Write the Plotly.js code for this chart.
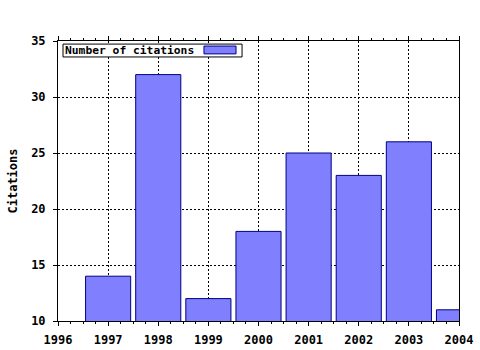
<!DOCTYPE html>
<html><head><meta charset="utf-8">
<script src="https://cdn.plot.ly/plotly-3.0.1.min.js"></script>
<style>html,body{margin:0;padding:0;background:#fff}#c{width:480px;height:350px}</style>
</head><body><div id="c"></div>
<script>
const years = [1997, 1998, 1999, 2000, 2001, 2002, 2003, 2004];
const citations = [14, 32, 12, 18, 25, 23, 26, 11];
const seriesName = "Number of citations";
const xTicks = [1996, 1997, 1998, 1999, 2000, 2001, 2002, 2003, 2004];
const yTicks = [10, 15, 20, 25, 30, 35];

const font = {family: "DejaVu Sans Mono", size: 12, color: "#000", weight: "bold"};
const legendFont = {family: "DejaVu Sans Mono", size: 11.3, color: "#000", weight: "bold"};
const trace = {
  type: "bar", x: years, y: citations, name: seriesName, width: 0.9,
  marker: {color: "#8080ff", line: {color: "#000080", width: 1}},
  showlegend: false, hoverinfo: "none"
};
const layout = {
  width: 480, height: 350,
  margin: {l: 58, r: 21, t: 41, b: 29},
  paper_bgcolor: "#fff", plot_bgcolor: "#fff",
  font: font,
  xaxis: {range: [1996, 2004], tickvals: xTicks, ticktext: xTicks.map(String),
    showline: true, linecolor: "#000", linewidth: 1, mirror: "ticks",
    ticks: "outside", ticklen: 4, tickcolor: "#000", ticklabelstandoff: 4,
    showgrid: true, gridcolor: "#000", griddash: "2px,2px", gridwidth: 1,
    minor: {dtick: 0.25, tick0: 1996, ticks: "outside", ticklen: 2, tickcolor: "#000", showgrid: false},
    zeroline: false, tickfont: font},
  yaxis: {range: [10, 35], tickvals: yTicks, ticktext: yTicks.map(String),
    showline: true, linecolor: "#000", linewidth: 1, mirror: true,
    ticks: "outside", ticklen: 4, tickcolor: "#000", ticklabelstandoff: 5,
    showgrid: true, gridcolor: "#000", griddash: "2px,2px", gridwidth: 1,
    zeroline: false, tickfont: font,
    title: {text: "Citations", font: font, standoff: 10}},
  shapes: [
    {type: "rect", xref: "paper", yref: "paper", x0: 0.0125, x1: 0.459, y0: 0.943, y1: 0.989,
     line: {color: "#000", width: 1}, fillcolor: "#fff", layer: "above"},
    {type: "rect", xref: "paper", yref: "paper", x0: 0.364, x1: 0.444, y0: 0.954, y1: 0.982,
     line: {color: "#000080", width: 1}, fillcolor: "#8080ff", layer: "above"}
  ],
  annotations: [
    {xref: "paper", yref: "paper", x: 0.013, y: 0.966, xanchor: "left", yanchor: "middle",
     text: seriesName, showarrow: false, font: legendFont}
  ]
};
Plotly.newPlot("c", [trace], layout, {staticPlot: true, displayModeBar: false});
</script></body></html>
